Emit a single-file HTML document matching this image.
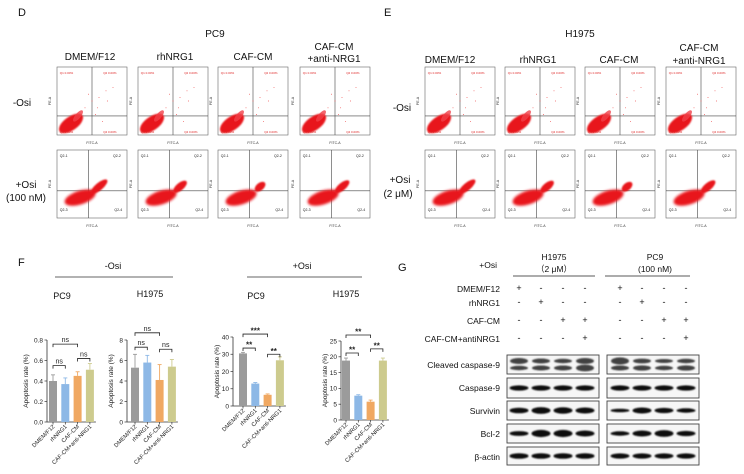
<!DOCTYPE html>
<html><head><meta charset="utf-8"><style>
html,body{margin:0;padding:0;background:#fff;}
svg{display:block;font-family:"Liberation Sans",Arial,sans-serif;}
</style></head><body>
<svg id="fig" width="744" height="474" viewBox="0 0 744 474" xmlns="http://www.w3.org/2000/svg">
<defs>
<filter id="blur1" x="-30%" y="-30%" width="160%" height="160%"><feGaussianBlur stdDeviation="1.3"/></filter>
<filter id="blur2" x="-30%" y="-30%" width="160%" height="160%"><feGaussianBlur stdDeviation="0.9"/></filter>
</defs>
<g font-size="10" fill="#111">
<text x="18" y="16" font-size="11">D</text>
<text x="215" y="37" text-anchor="middle">PC9</text>
<text x="90" y="60" text-anchor="middle">DMEM/F12</text>
<text x="175" y="60" text-anchor="middle">rhNRG1</text>
<text x="253" y="60" text-anchor="middle">CAF-CM</text>
<text x="334" y="50" text-anchor="middle">CAF-CM</text>
<text x="334" y="62" text-anchor="middle">+anti-NRG1</text>
<text x="22" y="106" text-anchor="middle">-Osi</text>
<text x="26" y="188" text-anchor="middle">+Osi</text>
<text x="26" y="201" text-anchor="middle">(100 nM)</text>
</g>
<g font-size="10" fill="#111">
<text x="384" y="16" font-size="11">E</text>
<text x="580" y="37" text-anchor="middle">H1975</text>
<text x="450" y="63" text-anchor="middle">DMEM/F12</text>
<text x="538" y="63" text-anchor="middle">rhNRG1</text>
<text x="619" y="63" text-anchor="middle">CAF-CM</text>
<text x="699" y="51" text-anchor="middle">CAF-CM</text>
<text x="699" y="64" text-anchor="middle">+anti-NRG1</text>
<text x="402" y="111" text-anchor="middle">-Osi</text>
<text x="400" y="183" text-anchor="middle">+Osi</text>
<text x="398" y="197" text-anchor="middle">(2 μM)</text>
</g>
<g id="flows"></g>
<g font-size="9" fill="#111">
<text x="18" y="266" font-size="11">F</text>
<text x="113" y="269" text-anchor="middle">-Osi</text>
<line x1="55" y1="277" x2="173" y2="277" stroke="#333" stroke-width="0.8"/>
<text x="302" y="269" text-anchor="middle">+Osi</text>
<line x1="247" y1="277" x2="362" y2="277" stroke="#333" stroke-width="0.8"/>
<text x="62" y="299" text-anchor="middle">PC9</text>
<text x="150" y="297" text-anchor="middle">H1975</text>
<text x="256" y="299" text-anchor="middle">PC9</text>
<text x="346" y="297" text-anchor="middle">H1975</text>
</g>
<g id="bars"></g>
<g font-size="8.5" fill="#111">
<text x="398" y="271" font-size="11">G</text>
<text x="497" y="268" text-anchor="end">+Osi</text>
<text x="554" y="260" text-anchor="middle">H1975</text>
<text x="554" y="272" text-anchor="middle">（2 μM）</text>
<line x1="513" y1="276" x2="595" y2="276" stroke="#222" stroke-width="0.8"/>
<text x="655" y="260" text-anchor="middle">PC9</text>
<text x="655" y="272" text-anchor="middle">(100 nM)</text>
<line x1="605" y1="276" x2="690" y2="276" stroke="#222" stroke-width="0.8"/>
<text x="500" y="292" text-anchor="end">DMEM/F12</text>
<text x="500" y="306" text-anchor="end">rhNRG1</text>
<text x="500" y="324" text-anchor="end">CAF-CM</text>
<text x="500" y="342" text-anchor="end">CAF-CM+antiNRG1</text>
<text x="500" y="368" text-anchor="end">Cleaved caspase-9</text>
<text x="500" y="391" text-anchor="end">Caspase-9</text>
<text x="500" y="414" text-anchor="end">Survivin</text>
<text x="500" y="437" text-anchor="end">Bcl-2</text>
<text x="500" y="460" text-anchor="end">β-actin</text>
</g>
<g id="blots"></g>
</svg>
<script>
const NS="http://www.w3.org/2000/svg";
function mk(tag,attrs,parent){const e=document.createElementNS(NS,tag);for(const k in attrs)e.setAttribute(k,attrs[k]);parent.appendChild(e);return e;}

/* ---------- flow plots ---------- */
const flowX=[[57,138,218,300],[425,505,585,666]];
const flowRowY=[67,150];
const flowG=document.getElementById('flows');
function flow(x,y,w,h,row,k){
  const g=mk('g',{},flowG);
  
  
  mk('rect',{x:x,y:y,width:w,height:h,fill:'#fff',stroke:'#666','stroke-width':0.6},g);
  const vx=x+w*(row?0.45:0.5), hy=y+h*(row?0.6:0.72);
  mk('line',{x1:vx,y1:y,x2:vx,y2:y+h,stroke:'#444','stroke-width':0.6},g);
  mk('line',{x1:x,y1:hy,x2:x+w,y2:hy,stroke:'#444','stroke-width':0.6},g);
  if(row===0){
    mk('ellipse',{cx:x+w*0.2,cy:y+h*0.83,rx:w*0.2,ry:h*0.1,fill:'#e8141a',transform:`rotate(-35 ${x+w*0.2} ${y+h*0.83})`,filter:'url(#blur2)'},g);
    mk('ellipse',{cx:x+w*0.3,cy:y+h*0.72,rx:w*0.1,ry:h*0.04,fill:'#f04048',transform:`rotate(-50 ${x+w*0.3} ${y+h*0.72})`,opacity:0.8},g);
    const pts=[[.4,.6],[.5,.5],[.6,.45],[.7,.35],[.55,.7],[.8,.3],[.65,.8],[.45,.4],[.58,.6],[.72,.5]];
    pts.forEach(p=>mk('circle',{cx:x+w*p[0],cy:y+h*p[1],r:0.45,fill:'#e44'},g));
    [['Q1',0.04,0.1],['Q2',0.66,0.1],['Q4',0.66,0.97],['Q3',0.04,0.97]].forEach(t=>{
      const tt=mk('text',{x:x+w*t[1],y:y+h*t[2],'font-size':3,fill:'#d22'},g);tt.textContent=t[0]+' 0.00%';});
  }else{
    const e1cx=x+w*0.33,e1cy=y+h*0.7;
    mk('ellipse',{cx:e1cx,cy:e1cy,rx:w*0.23,ry:h*0.1,fill:'#e8141a',transform:`rotate(-18 ${e1cx} ${e1cy})`,filter:'url(#blur1)'},g);
    const s=[0.15,0.12,0.09,0.13][k];
    const e2cx=x+w*0.6,e2cy=y+h*0.54;
    mk('ellipse',{cx:e2cx,cy:e2cy,rx:w*s,ry:h*0.055,fill:'#e8141a',transform:`rotate(-40 ${e2cx} ${e2cy})`,filter:'url(#blur2)'},g);
    [['Q2-1',0.04,0.1],['Q2-2',0.8,0.1],['Q2-3',0.04,0.9],['Q2-4',0.82,0.9]].forEach(t=>{
      const tt=mk('text',{x:x+w*t[1],y:y+h*t[2],'font-size':3.5,fill:'#222'},g);tt.textContent=t[0];});
  }
  const xl=mk('text',{x:x+w/2,y:y+h+9,'font-size':3.5,'text-anchor':'middle',fill:'#333'},g);xl.textContent='FITC-A';
  const yl=mk('text',{x:x-6,y:y+h/2,'font-size':3.5,'text-anchor':'middle',fill:'#333',transform:`rotate(-90 ${x-6} ${y+h/2})`},g);yl.textContent='PE-A';
}
flowX.forEach(cols=>cols.forEach((cx,k)=>flowRowY.forEach((ry,row)=>flow(cx,ry,70,68,row,k))));

/* ---------- bar charts ---------- */
const categories=['DMEM/F12','rhNRG1','CAF-CM','CAF-CM+anti-NRG1'];
const colors=['#9b9b9b','#8db8e6','#f0a862','#cdcb8e'];
const valsPC9NoOsi=[0.40,0.37,0.45,0.51];
const errPC9NoOsi=[0.06,0.06,0.04,0.06];
const valsH1975NoOsi=[5.3,5.8,4.1,5.4];
const errH1975NoOsi=[1.3,0.7,1.5,0.7];
const valsPC9Osi=[30.5,13.0,6.5,26.5];
const errPC9Osi=[0.6,0.6,0.5,2.0];
const valsH1975Osi=[18.8,7.7,5.8,18.8];
const errH1975Osi=[0.8,0.3,0.5,0.8];
const ticks1=[0,0.2,0.4,0.6,0.8];
const ticks2=[0,2,4,6,8];
const ticks3=[0,10,20,30,40];
const ticks4=[0,5,10,15,20,25];
const sig1=[[0,2,0.76,'ns'],[0,1,0.55,'ns'],[2,3,0.62,'ns']];
const sig2=[[0,2,8.7,'ns'],[0,1,7.3,'ns'],[2,3,7.1,'ns']];
const sig3=[[0,2,41.7,'***'],[0,1,33.6,'**'],[2,3,30,'**']];
const sig4=[[0,2,26.9,'**'],[0,1,21.2,'**'],[2,3,22.5,'**']];
const barG=document.getElementById('bars');
function barChart(name,ax,base,top,max,first,vals,errs,ticks,sig,dec){
  const g=mk('g',{},barG);
  
  
  const yS=v=>base-(v/max)*(base-top);
  const xS=i=>ax+first+i*12.3;
  mk('line',{x1:ax,y1:yS(ticks[ticks.length-1]),x2:ax,y2:base,stroke:'#333','stroke-width':0.8},g);
  mk('line',{x1:ax,y1:base,x2:xS(3)+6,y2:base,stroke:'#333','stroke-width':0.8},g);
  ticks.forEach(t=>{
    mk('line',{x1:ax-2.5,y1:yS(t),x2:ax,y2:yS(t),stroke:'#333','stroke-width':0.7},g);
    const tl=mk('text',{x:ax-4,y:yS(t)+2.3,'font-size':6.5,'text-anchor':'end',fill:'#222'},g);
    
    
    tl.textContent=t.toFixed(dec);
  });
  const ymid=(base+yS(ticks[ticks.length-1]))/2, yx=ax-(dec?19:14);
  const yt=mk('text',{x:yx,y:ymid,'font-size':6.5,'text-anchor':'middle',fill:'#222',transform:`rotate(-90 ${yx} ${ymid})`},g);
  
  
  yt.textContent='Apoptosis rate (%)';
  vals.forEach((v,i)=>{
    const cx=xS(i);
    const r=mk('rect',{x:cx-4,y:yS(v),width:8,height:base-yS(v),fill:colors[i]},g);
    
    
    const ey=yS(v+errs[i]);
    mk('line',{x1:cx,y1:yS(v),x2:cx,y2:ey,stroke:colors[i],'stroke-width':0.9},g);
    mk('line',{x1:cx-2,y1:ey,x2:cx+2,y2:ey,stroke:colors[i],'stroke-width':0.9},g);
    mk('line',{x1:cx,y1:base,x2:cx,y2:base+2.5,stroke:'#333','stroke-width':0.7},g);
    const lx=cx+2,ly=base+5;
    const xl=mk('text',{x:lx,y:ly,'font-size':5.8,'text-anchor':'end',fill:'#222',transform:`rotate(-45 ${lx} ${ly})`},g);
    
    
    xl.textContent=categories[i];
  });
  sig.forEach(s=>{
    const y=yS(s[2]),x1=xS(s[0]),x2=xS(s[1]);
    const p=mk('path',{d:`M${x1} ${y+3}V${y}H${x2}V${y+3}`,fill:'none',stroke:'#222','stroke-width':0.8},g);
    
    
    const t=mk('text',{x:(x1+x2)/2,y:s[3]==='ns'?y-2:y-0.5,'font-size':s[3]==='ns'?7:8,'font-weight':s[3]==='ns'?'normal':'bold','text-anchor':'middle',fill:'#222'},g);
    t.textContent=s[3];
  });
}
barChart('chart-pc9-no-osi',47,422,340,0.8,6,valsPC9NoOsi,errPC9NoOsi,ticks1,sig1,1);
barChart('chart-h1975-no-osi',127,422,340,8,8,valsH1975NoOsi,errH1975NoOsi,ticks2,sig2,0);
barChart('chart-pc9-osi',233,406,337,40,10,valsPC9Osi,errPC9Osi,ticks3,sig3,0);
barChart('chart-h1975-osi',341,420,341,25,5,valsH1975Osi,errH1975Osi,ticks4,sig4,0);

/* ---------- western blot ---------- */
const blotG=document.getElementById('blots');
const signs=[['+','-','-','-'],['-','+','-','-'],['-','-','+','+'],['-','-','-','+']];
const signY=[291,305,323,341];
const laneX=[[519,541,563,585],[620,642,664,686]];
laneX.forEach(l=>l.forEach((x,i)=>signs.forEach((r,j)=>{
  const t=mk('text',{x:x,y:signY[j],'font-size':9,'text-anchor':'middle',fill:'#111'},blotG);t.textContent=r[i];})));
const rowY=[355,378,401,424,447];
const rowH=[19,20,19,19,18];
const bandW=[[[3,2.2],[2.5,2.5],[2.2,2.5],[3,3.4]],[[2.6,2.6],[2.6,2.6],[2.6,2.6],[2.6,2.6]],[[2.8,2.8],[3.4,3.4],[3.2,3.2],[3,3]],[[2.4,2.4],[3.6,3.6],[3.6,3.6],[3,3]],[[2.8,2.8],[2.8,2.8],[2.8,2.8],[2.8,2.8]]];
const bandP=[[[3.6,2.5],[2.4,2.6],[2,2.2],[2.2,2.6]],[[2.6,2.6],[2.6,2.6],[2.6,2.6],[2.6,2.6]],[[1.8,1.8],[3,3],[2.6,2.6],[2.2,2.2]],[[2.2,2.2],[3,3],[3.4,3.4],[2.6,2.6]],[[2.6,2.6],[2.6,2.6],[2.6,2.6],[2.6,2.6]]];
[[507,92,bandW,0],[607,92,bandP,1]].forEach(([bx,bw,bands,side])=>{
  rowY.forEach((y,r)=>{
    const g=mk('g',{},blotG);
    
    
    mk('rect',{x:bx,y:y,width:bw,height:rowH[r],fill:'#f6f6f6',stroke:'#444','stroke-width':0.9},g);
    laneX[side].forEach((lx,i)=>{
      if(r===0){
        mk('ellipse',{cx:lx,cy:y+6,rx:9,ry:bands[r][i][0],fill:'#222',opacity:0.85,filter:'url(#blur2)'},g);
        mk('ellipse',{cx:lx,cy:y+13,rx:9,ry:bands[r][i][1],fill:'#222',opacity:0.85,filter:'url(#blur2)'},g);
      }else{
        mk('ellipse',{cx:lx,cy:y+rowH[r]/2,rx:9.5,ry:bands[r][i][0],fill:'#111',filter:'url(#blur2)'},g);
      }
    });
  });
});
</script>
</body></html>
